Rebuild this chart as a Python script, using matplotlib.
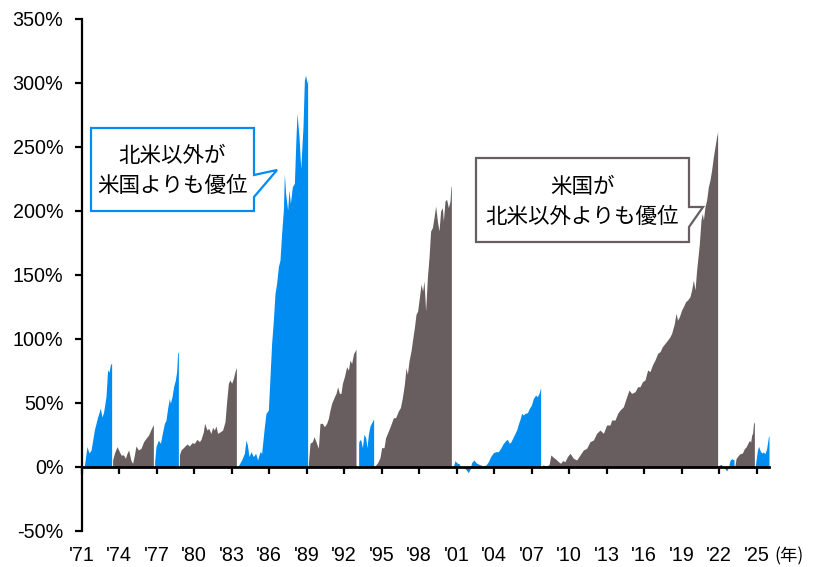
import matplotlib
matplotlib.use("Agg")
import matplotlib.pyplot as plt
from matplotlib.patches import Polygon
from matplotlib.transforms import blended_transform_factory

# Cumulative relative performance within each leadership phase (%)
# "ex" = non-US leads, "us" = US leads
t_ex1 = [1971.23, 1971.44, 1971.60, 1971.76, 1972.03, 1972.29, 1972.51, 1972.64, 1972.77,
         1972.96, 1973.09, 1973.20, 1973.31, 1973.41]
v_ex1 = [1, 16, 11, 13, 29, 39, 46, 39, 43, 55, 76, 74, 80, 81]

t_us1 = [1973.49, 1973.63, 1973.84, 1974.03, 1974.16, 1974.37, 1974.51, 1974.64, 1974.77,
         1974.96, 1975.09, 1975.23, 1975.36, 1975.55, 1975.76, 1975.97, 1976.16, 1976.37,
         1976.56, 1976.69, 1976.75]
v_us1 = [5.5, 10.7, 15.9, 12, 9.4, 9.4, 6.8, 10.7, 13.3, 5, 2.9, 9.4, 16.4, 13.3, 14.6,
         19.8, 22.4, 25, 29.4, 32, 33]

t_ex2 = [1976.85, 1976.96, 1977.15, 1977.31, 1977.44, 1977.63, 1977.76, 1977.89, 1978.03,
         1978.11, 1978.24, 1978.37, 1978.51, 1978.61, 1978.69, 1978.75]
v_ex2 = [4, 16, 21, 18.5, 25, 34, 36.7, 45.8, 53.6, 49.7, 54.9, 62.8, 68, 74.5, 88.8, 90]

t_us2 = [1978.83, 1978.96, 1979.23, 1979.44, 1979.63, 1979.84, 1980.03, 1980.24, 1980.43,
         1980.56, 1980.75, 1980.85, 1981.04, 1981.17, 1981.36, 1981.49, 1981.63, 1981.76,
         1981.89, 1982.11, 1982.29, 1982.48, 1982.61, 1982.75, 1982.88, 1983.01, 1983.15,
         1983.28, 1983.39]
v_us2 = [9.4, 13.3, 15.9, 18, 16.4, 19, 18.5, 21.6, 19.8, 21.6, 27.6, 34.1, 28.9, 30.2,
         26.3, 31, 28.9, 32, 26.3, 27.6, 28.9, 35.4, 51, 65.4, 68, 65.4, 69.3, 74.5, 77.9]

t_ex3 = [1983.55, 1983.81, 1984.03, 1984.16, 1984.27, 1984.40, 1984.56, 1984.75, 1984.93,
         1985.09, 1985.28, 1985.41, 1985.63, 1985.76, 1985.95, 1986.08, 1986.21, 1986.35,
         1986.48, 1986.61, 1986.75, 1986.88, 1987.01, 1987.15, 1987.23, 1987.33, 1987.49,
         1987.60, 1987.71, 1987.87, 1988.03, 1988.16, 1988.24, 1988.40, 1988.54, 1988.72,
         1988.83, 1988.93, 1989.04, 1989.09]
v_ex3 = [1, 5.5, 10.7, 21.1, 17.2, 8.1, 12, 8.1, 10.7, 5.5, 12, 10.7, 31.5, 41.9, 44.5,
         70.6, 96.6, 114.8, 135.7, 143.5, 156.5, 161.7, 182.6, 200.8, 229.4, 213.8, 200.8,
         216.4, 206, 219, 221.6, 258, 276.3, 258, 233, 265.9, 302.3, 306.2, 299.7, 303]

t_us3 = [1989.15, 1989.28, 1989.47, 1989.60, 1989.76, 1989.95, 1990.08, 1990.27, 1990.43,
         1990.61, 1990.75, 1990.88, 1991.01, 1991.23, 1991.36, 1991.49, 1991.63, 1991.76,
         1991.87, 1992.03, 1992.21, 1992.35, 1992.48, 1992.61, 1992.77, 1992.93, 1992.96]
v_us3 = [2.9, 18.5, 19.8, 23.7, 19.8, 14.6, 34.1, 34.1, 31.5, 34.1, 38, 44.5, 49.7, 54.9,
         57.5, 62.7, 57.5, 57.5, 65.3, 70.5, 78.3, 75.7, 83.5, 80.9, 88.7, 91.4, 92]

t_ex4 = [1993.17, 1993.20, 1993.33, 1993.47, 1993.60, 1993.73, 1993.84, 1993.95, 1994.08,
         1994.21, 1994.35, 1994.37]
v_ex4 = [18, 20.3, 21.6, 15.1, 25.5, 23, 15.1, 25.5, 32, 34.6, 37.2, 37]

t_us4 = [1994.48, 1994.69, 1994.88, 1995.01, 1995.20, 1995.33, 1995.55, 1995.76, 1995.95,
         1996.13, 1996.35, 1996.51, 1996.67, 1996.83, 1996.96, 1997.07, 1997.20, 1997.36,
         1997.47, 1997.63, 1997.76, 1997.89, 1998.03, 1998.16, 1998.29, 1998.40, 1998.53,
         1998.67, 1998.80, 1998.93, 1999.07, 1999.20, 1999.33, 1999.47, 1999.60, 1999.73,
         1999.87, 1999.95, 2000.08, 2000.21, 2000.35, 2000.48, 2000.56, 2000.59]
v_us4 = [0.8, 3.4, 7.3, 15.1, 15.1, 23, 28.1, 33.3, 38.5, 38.5, 43.8, 46.4, 54.2, 64.6,
         77.6, 72.4, 82.8, 90.6, 98.4, 108.9, 119.3, 121.9, 132.3, 142.8, 137.5, 145.4,
         121.9, 148, 163.6, 184.4, 187, 194.8, 203.9, 192.2, 184.4, 200, 202.6, 192.2,
         207.8, 209.1, 202.6, 207.8, 219.5, 219]

t_ex5 = [2000.75, 2000.88, 2001.01, 2001.23, 2001.36, 2001.55, 2001.73, 2001.95, 2002.08,
         2002.21, 2002.40, 2002.56, 2002.75, 2002.93, 2003.15, 2003.36, 2003.55, 2003.73,
         2003.95, 2004.16, 2004.35, 2004.53, 2004.75, 2004.93, 2005.07, 2005.23, 2005.36,
         2005.55, 2005.68, 2005.81, 2005.95, 2006.08, 2006.21, 2006.35, 2006.48, 2006.67,
         2006.83, 2006.99, 2007.15, 2007.33, 2007.47, 2007.60, 2007.71, 2007.73]
v_ex5 = [0.3, 5, 3.4, 2.3, -1, -0.3, -1.6, -4.4, -1.8, 3.4, 5.5, 3.4, 2.3, 1.6, 0.8, 1.6,
         4.2, 8.1, 11.2, 12, 12, 14.6, 18.5, 20.6, 21.6, 18.5, 19.8, 23.7, 26.3, 28.9, 33.6,
         37.2, 41.9, 40.6, 41.9, 42.4, 45.8, 48.4, 53.6, 56.2, 54.9, 57.5, 61.4, 62]

t_us5 = [2007.89, 2008.21, 2008.41, 2008.55, 2008.75, 2008.96, 2009.15, 2009.33, 2009.49,
         2009.68, 2009.87, 2010.08, 2010.35, 2010.61, 2010.88, 2011.15, 2011.41, 2011.68,
         2011.95, 2012.21, 2012.48, 2012.75, 2013.01, 2013.28, 2013.41, 2013.68, 2013.89,
         2014.08, 2014.35, 2014.61, 2014.80, 2015.01, 2015.28, 2015.49, 2015.68, 2015.87,
         2016.08, 2016.29, 2016.48, 2016.67, 2016.88, 2017.09, 2017.28, 2017.47, 2017.68,
         2017.89, 2018.08, 2018.21, 2018.43, 2018.56, 2018.69, 2018.83, 2019.01, 2019.15,
         2019.33, 2019.49, 2019.68, 2019.81, 2019.95, 2020.08, 2020.21, 2020.35, 2020.43,
         2020.56, 2020.67, 2020.75, 2020.88, 2021.01, 2021.15, 2021.28, 2021.41, 2021.55,
         2021.68, 2021.81, 2021.87, 2021.89]
v_us5 = [1.6, 0.8, 2, 9.4, 7.6, 6, 4.2, 2.9, 5, 4.2, 8.1, 10.7, 6.8, 5.5, 9.4, 13.3, 14.6,
         19.8, 21.1, 26.3, 28.9, 26.3, 32.8, 32.8, 36.7, 36.7, 41.9, 44.5, 47.1, 54.9, 60.1,
         57.5, 58.8, 62.7, 62.7, 66.6, 68, 75.8, 74.5, 79.7, 83.6, 88.8, 90.1, 94, 96.6,
         99.2, 101.8, 104.4, 112.2, 120, 114.8, 117.4, 122.7, 125.3, 129.2, 130.5, 133.1,
         138.3, 146.1, 138.3, 153.9, 167, 174.8, 193, 198.2, 193, 203.4, 208.6, 219, 224.2,
         232, 242.4, 250.3, 258.1, 260.7, 263]

t_ex6 = [2021.95, 2022.00, 2022.16, 2022.32, 2022.48, 2022.61, 2022.75, 2022.88, 2023.01,
         2023.15, 2023.20]
v_ex6 = [0.5, 1.3, 2.1, 0.5, -1.3, -3.1, -0.5, 5.2, 6.5, 5.7, 6]

t_us6 = [2023.28, 2023.36, 2023.55, 2023.68, 2023.87, 2024.03, 2024.16, 2024.29, 2024.43,
         2024.53, 2024.61, 2024.69, 2024.77, 2024.83]
v_us6 = [1.3, 6.5, 9.1, 10.4, 10.9, 14.3, 15.6, 18.2, 20.8, 19.5, 24.7, 26.6, 35.2, 34]

t_ex7 = [2024.93, 2025.07, 2025.17, 2025.28, 2025.41, 2025.55, 2025.68, 2025.81, 2025.95,
         2026.00]
v_ex7 = [2.6, 13, 16.1, 13, 10.9, 11.7, 10.4, 14.3, 23.4, 24.7]

phases = [
    ("ex", t_ex1, v_ex1), ("us", t_us1, v_us1), ("ex", t_ex2, v_ex2), ("us", t_us2, v_us2),
    ("ex", t_ex3, v_ex3), ("us", t_us3, v_us3), ("ex", t_ex4, v_ex4), ("us", t_us4, v_us4),
    ("ex", t_ex5, v_ex5), ("us", t_us5, v_us5), ("ex", t_ex6, v_ex6), ("us", t_us6, v_us6),
    ("ex", t_ex7, v_ex7),
]

tick_years = list(range(1971, 2026, 3))
tick_labels = ["'" + str(y)[2:] for y in tick_years]
y_ticks = list(range(-50, 351, 50))
y_labels = [f"{v}%" for v in y_ticks]

COLORS = {"ex": "#008CF0", "us": "#685E60"}
CJK = ["Noto Sans CJK JP", "DejaVu Sans"]
LATIN = "Liberation Sans"

W, H = 813, 567
fig = plt.figure(figsize=(W / 100, H / 100), dpi=100)
ax = fig.add_axes([81.5 / W, 36 / H, 687.5 / W, 512 / H])

for kind, t, v in phases:
    ax.fill_between(t, 0, v, color=COLORS[kind], linewidth=0)

ax.set_xlim(1971, 2026.0)
ax.set_ylim(-50, 350)

for s in ("top", "right"):
    ax.spines[s].set_visible(False)
ax.spines["bottom"].set_position(("data", 0))
ax.spines["bottom"].set_linewidth(2)
ax.spines["left"].set_linewidth(1.6)
ax.spines["left"].set_bounds(-50, 350)

ax.set_yticks(y_ticks)
ax.set_yticklabels(y_labels, fontfamily=LATIN, fontsize=14.2)
ax.tick_params(axis="y", direction="out", length=5, width=1.6, pad=8, colors="black")

ax.set_xticks(tick_years)
ax.tick_params(axis="x", direction="out", length=5, width=1.6, labelbottom=False)

trans = blended_transform_factory(ax.transData, ax.transAxes)
for yr, lab in zip(tick_years, tick_labels):
    ax.text(yr, -0.047, lab, transform=trans, ha="center", va="center",
            fontfamily=LATIN, fontsize=14.2, clip_on=False)
fig.text(774 / W, 1 - 556 / H, "(年)", ha="left", va="center",
         family=CJK, fontsize=12.5)


def px(pts):
    return [(x / W, 1 - y / H) for x, y in pts]


# callout: non-US leads
fig.patches.append(Polygon(
    px([(91, 128), (254, 128), (254, 175), (277, 170), (254, 197), (254, 211), (91, 211)]),
    closed=True, facecolor="white", edgecolor=COLORS["ex"], linewidth=1.6,
    transform=fig.transFigure, zorder=5))
fig.text(172 / W, 1 - 156 / H, "北米以外が", ha="center", va="center",
         family=CJK, fontsize=15.5, zorder=6)
fig.text(172 / W, 1 - 186 / H, "米国よりも優位", ha="center", va="center",
         family=CJK, fontsize=15.5, zorder=6)

# callout: US leads
fig.patches.append(Polygon(
    px([(476, 158), (689, 158), (689, 207), (703, 207), (689, 227), (689, 242), (476, 242)]),
    closed=True, facecolor="white", edgecolor=COLORS["us"], linewidth=1.6,
    transform=fig.transFigure, zorder=5))
fig.text(582.5 / W, 1 - 187 / H, "米国が", ha="center", va="center",
         family=CJK, fontsize=15.5, zorder=6)
fig.text(582.5 / W, 1 - 217 / H, "北米以外よりも優位", ha="center", va="center",
         family=CJK, fontsize=15.5, zorder=6)

fig.savefig("out.png", dpi=100)
